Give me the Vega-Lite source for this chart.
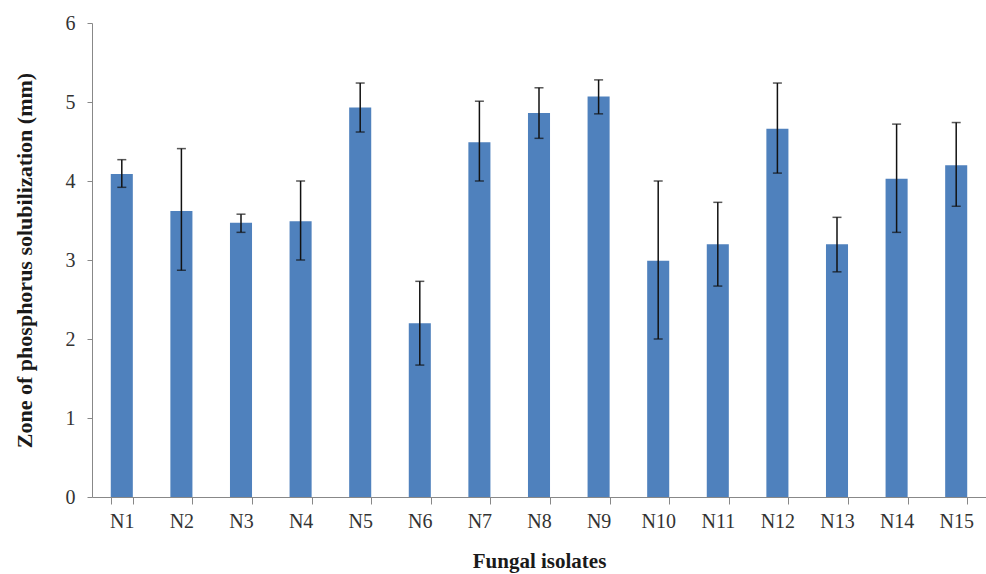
{
  "$schema": "https://vega.github.io/schema/vega-lite/v6.json",
  "autosize": {"type": "none"},
  "padding": {"left": 92, "top": 23, "right": 0, "bottom": 77},
  "width": 894,
  "height": 474,
  "background": "white",
  "data": {"values": [
    {"isolate": "N1", "mean": 4.09, "lo": 3.92, "hi": 4.27},
    {"isolate": "N2", "mean": 3.62, "lo": 2.87, "hi": 4.41},
    {"isolate": "N3", "mean": 3.47, "lo": 3.35, "hi": 3.58},
    {"isolate": "N4", "mean": 3.49, "lo": 3.00, "hi": 4.00},
    {"isolate": "N5", "mean": 4.93, "lo": 4.62, "hi": 5.24},
    {"isolate": "N6", "mean": 2.20, "lo": 1.67, "hi": 2.73},
    {"isolate": "N7", "mean": 4.49, "lo": 4.00, "hi": 5.01},
    {"isolate": "N8", "mean": 4.86, "lo": 4.54, "hi": 5.18},
    {"isolate": "N9", "mean": 5.07, "lo": 4.85, "hi": 5.28},
    {"isolate": "N10", "mean": 2.99, "lo": 2.00, "hi": 4.00},
    {"isolate": "N11", "mean": 3.20, "lo": 2.67, "hi": 3.73},
    {"isolate": "N12", "mean": 4.66, "lo": 4.10, "hi": 5.24},
    {"isolate": "N13", "mean": 3.20, "lo": 2.85, "hi": 3.54},
    {"isolate": "N14", "mean": 4.03, "lo": 3.35, "hi": 4.72},
    {"isolate": "N15", "mean": 4.20, "lo": 3.68, "hi": 4.74}
  ]},
  "config": {
    "view": {"stroke": null},
    "font": "Liberation Serif, serif"
  },
  "encoding": {
    "x": {
      "field": "isolate", "type": "nominal", "sort": null,
      "scale": {"paddingInner": 0.63, "paddingOuter": 0.315},
      "axis": {
        "title": "Fungal isolates",
        "titleFont": "Liberation Serif, serif", "titleFontSize": 21, "titleFontWeight": "bold", "titleColor": "#1a1a1a",
        "titlePadding": 19,
        "labelAngle": 0, "labelFont": "Liberation Serif, serif", "labelFontSize": 20, "labelColor": "#333333",
        "labelPadding": 7,
        "tickBand": "extent", "tickSize": 7, "tickColor": "#888888",
        "domainColor": "#888888", "grid": false
      }
    }
  },
  "layer": [
    {
      "mark": {"type": "bar", "color": "#4F81BD"},
      "encoding": {
        "y": {
          "field": "mean", "type": "quantitative",
          "scale": {"domain": [0, 6]},
          "axis": {
            "title": "Zone of phosphorus solubilization (mm)",
            "titleFont": "Liberation Serif, serif", "titleFontSize": 22, "titleFontWeight": "bold", "titleColor": "#1a1a1a",
            "titlePadding": 29,
            "values": [0, 1, 2, 3, 4, 5, 6], "format": "d",
            "labelFont": "Liberation Serif, serif", "labelFontSize": 20, "labelColor": "#333333",
            "labelPadding": 12, "tickSize": 5, "tickColor": "#888888",
            "domainColor": "#888888", "grid": false
          }
        }
      }
    },
    {
      "mark": {"type": "rule", "color": "#111111", "strokeWidth": 1.5},
      "encoding": {
        "y": {"field": "lo", "type": "quantitative"},
        "y2": {"field": "hi"}
      }
    },
    {
      "mark": {"type": "tick", "color": "#111111", "thickness": 1.5, "size": 9},
      "encoding": {
        "y": {"field": "lo", "type": "quantitative"}
      }
    },
    {
      "mark": {"type": "tick", "color": "#111111", "thickness": 1.5, "size": 9},
      "encoding": {
        "y": {"field": "hi", "type": "quantitative"}
      }
    }
  ]
}
